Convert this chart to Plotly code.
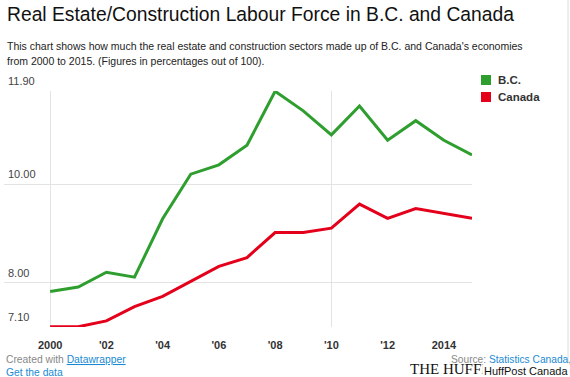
import plotly.graph_objects as go

years = list(range(2000, 2016))
bc = [7.82, 7.91, 8.21, 8.11, 9.30, 10.21, 10.40, 10.80, 11.90, 11.50, 11.01, 11.60, 10.90, 11.30, 10.90, 10.60]
canada = [7.10, 7.10, 7.22, 7.51, 7.72, 8.02, 8.33, 8.51, 9.02, 9.02, 9.11, 9.60, 9.31, 9.51, 9.41, 9.31]
series_names = ["B.C.", "Canada"]
series_colors = ["#2e9e2e", "#e4001b"]
x_tickvals = [2000, 2002, 2004, 2006, 2008, 2010, 2012, 2014]
x_ticktext = ["2000", "'02", "'04", "'06", "'08", "'10", "'12", "2014"]
y_tickvals = [7.10, 8.00, 10.00, 11.90]
y_ticktext = ["7.10", "8.00", "10.00", "11.90"]
x_grid = [2000, 2010]

W, H = 570, 377
L, R, T, B = 4, 472, 91, 327
FONT = "Liberation Sans, Arial, sans-serif"


def px(xp):
    return (xp - L) / (R - L)


def py(yp):
    return (B - yp) / (B - T)


fig = go.Figure()
for name, vals, col in zip(series_names, [bc, canada], series_colors):
    fig.add_trace(go.Scatter(x=years, y=vals, mode="lines", name=name,
                             line=dict(color=col, width=3),
                             showlegend=False, hoverinfo="x+y"))

# overlay axis for the two vertical gridlines
fig.add_trace(go.Scatter(x=[None], y=[None], xaxis="x2", showlegend=False))

fig.update_layout(
    width=W, height=H,
    margin=dict(l=L, r=W - R, t=T, b=H - B, pad=0),
    paper_bgcolor="white", plot_bgcolor="white",
    font=dict(family=FONT, color="#333"),
    xaxis=dict(range=[1998.36, 2015.0], tickvals=x_tickvals, ticktext=x_ticktext,
               showgrid=False, zeroline=False, showline=False, ticks="",
               tickfont=dict(family=FONT, size=11, color="#333", weight="bold"),
               ticklabelstandoff=10),
    xaxis2=dict(range=[1998.36, 2015.0], overlaying="x", tickvals=x_grid,
                showgrid=True, gridcolor="#e3e3e3", gridwidth=1,
                showticklabels=False, zeroline=False, showline=False, ticks=""),
    yaxis=dict(range=[7.095, 11.905], tickvals=y_tickvals,
               showgrid=True, gridcolor="#e3e3e3", gridwidth=1,
               zeroline=False, showline=False, ticks="", showticklabels=False),
)

ann = []
# y tick labels, placed by the y scale, sitting above their gridlines
for v, t in zip(y_tickvals, y_ticktext):
    ann.append(dict(x=px(6), y=v, yref="y", yshift=10, text=t,
                    font=dict(family=FONT, size=11, color="#444")))
# title and subtitle
ann.append(dict(x=px(5), y=py(14), text="Real Estate/Construction Labour Force in B.C. and Canada",
                font=dict(family=FONT, size=19.3, color="#111")))
ann.append(dict(x=px(5), y=py(46),
                text="This chart shows how much the real estate and construction sectors made up of B.C. and Canada's economies",
                font=dict(family=FONT, size=10.5, color="#222")))
ann.append(dict(x=px(5), y=py(61), text="from 2000 to 2015. (Figures in percentages out of 100).",
                font=dict(family=FONT, size=10.5, color="#222")))
# legend
shapes = []
for i, (name, col) in enumerate(zip(series_names, series_colors)):
    cy = 80 + i * 17
    shapes.append(dict(type="rect", xref="paper", yref="paper",
                       x0=px(481), x1=px(491), y0=py(cy + 5), y1=py(cy - 5),
                       fillcolor=col, line=dict(width=0)))
    ann.append(dict(x=px(496), y=py(cy), text="<b>%s</b>" % name,
                    font=dict(family=FONT, size=11.5, color="#333")))
# footer
ann.append(dict(x=px(4), y=py(359),
                text="Created with <span style='color:#1a8ad4'><u>Datawrapper</u></span>",
                font=dict(family=FONT, size=10.3, color="#888")))
ann.append(dict(x=px(4), y=py(372), text="<u>Get the data</u>",
                font=dict(family=FONT, size=10.3, color="#1a8ad4")))
ann.append(dict(x=px(408), y=py(369), text="THE HUFFINGTON POST",
                font=dict(family="Liberation Serif, Times New Roman, serif", size=15, color="#111")))
ann.append(dict(x=px(449), y=py(359),
                text="Source: <span style='color:#1a8ad4'><u>Statistics Canada</u></span>,",
                font=dict(family=FONT, size=10.2, color="#888")))
ann.append(dict(x=px(482), y=py(371), text="HuffPost Canada",
                font=dict(family=FONT, size=11, color="#111"), bgcolor="white", borderpad=1))

for a in ann:
    a.setdefault("yref", "paper")
    a.update(xref="paper", xanchor="left", yanchor="middle", showarrow=False)

shapes.append(dict(type="line", xref="paper", yref="paper", x0=px(568), x1=px(568),
                   y0=py(0), y1=py(H), line=dict(color="#dcdcdc", width=1)))

fig.update_layout(annotations=ann, shapes=shapes)
fig.write_html("out.html", config={"displayModeBar": False},
               post_script="document.body.style.margin='0';document.body.style.overflow='hidden';")
